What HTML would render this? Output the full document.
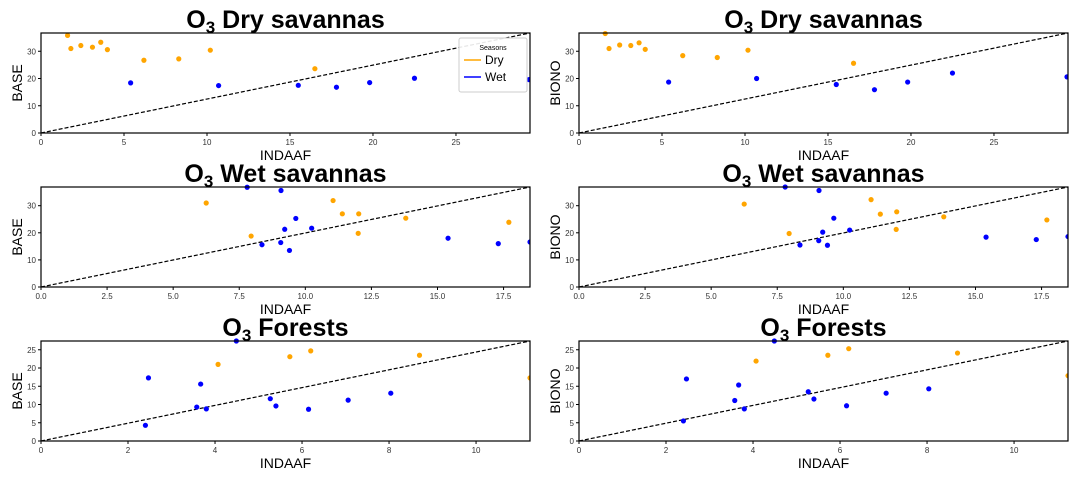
<!DOCTYPE html>
<html><head><meta charset="utf-8"><style>
body{margin:0;background:#fff;}
svg{display:block;font-family:"Liberation Sans","DejaVu Sans",sans-serif;}
</style></head><body>
<svg id="fig" width="1079" height="478" viewBox="0 0 1079 478"></svg>
<script>
const panelTitles=["Dry savannas","Wet savannas","Forests"];
const xMaxes=[29.46,18.5,11.24];
const yMaxes=[36.7,36.9,27.4];
const xTicks=[[0,5,10,15,20,25],[0,2.5,5,7.5,10,12.5,15,17.5],[0,2,4,6,8,10]];
const xTickLabels=[["0","5","10","15","20","25"],["0.0","2.5","5.0","7.5","10.0","12.5","15.0","17.5"],["0","2","4","6","8","10"]];
const yTicks=[[0,10,20,30],[0,10,20,30],[0,5,10,15,20,25]];
const yLabels=["BASE","BIONO"];
// Dry savannas
const ds_dry_x=[1.6,1.8,2.4,3.1,3.6,4.0,6.2,8.3,10.2,16.5];
const ds_base_dry_y=[35.8,31,32.1,31.5,33.3,30.6,26.7,27.2,30.4,23.6];
const ds_biono_dry_x=[1.58,1.81,2.45,3.12,3.62,3.99,6.25,8.33,10.18,16.54];
const ds_biono_dry_y=[36.5,31,32.3,32.1,33.1,30.7,28.4,27.7,30.4,25.6];
const ds_wet_x=[5.4,10.7,15.5,17.8,19.8,22.5,29.4];
const ds_base_wet_y=[18.4,17.4,17.5,16.8,18.5,20.1,19.6];
const ds_biono_wet_y=[18.7,20,17.8,15.9,18.7,22,20.6];
// Wet savannas
const ws_dry_x=[6.25,7.95,11.05,11.4,12.02,12.0,13.8,17.7];
const ws_base_dry_y=[31,18.8,31.9,27,27,19.8,25.4,23.9];
const ws_biono_dry_y=[30.6,19.75,32.25,26.9,27.75,21.25,25.9,24.75];
const ws_wet_x=[7.8,9.08,9.64,9.22,10.24,8.36,9.07,9.4,15.4,17.3,18.5];
const ws_base_wet_y=[36.8,35.6,25.3,21.3,21.7,15.6,16.4,13.5,18,16,16.6];
const ws_biono_wet_y=[36.9,35.6,25.4,20.25,21,15.5,17.1,15.4,18.4,17.5,18.6];
// Forests
const fo_dry_x=[4.07,5.72,6.2,8.7,11.24];
const fo_base_dry_y=[21.0,23.1,24.7,23.5,17.3];
const fo_biono_dry_y=[21.9,23.5,25.3,24.1,17.9];
const fo_wet_x=[2.4,2.47,3.67,3.58,3.8,4.49,5.27,5.4,6.15,7.06,8.04];
const fo_base_wet_y=[4.3,17.3,15.6,9.3,8.8,27.4,11.6,9.6,8.7,11.2,13.1];
const fo_biono_wet_y=[5.5,17,15.35,11.1,8.8,27.4,13.5,11.5,9.65,13.1,14.3];

const series=[
 [[ds_dry_x,ds_base_dry_y,ds_wet_x,ds_base_wet_y],[ds_biono_dry_x,ds_biono_dry_y,ds_wet_x,ds_biono_wet_y]],
 [[ws_dry_x,ws_base_dry_y,ws_wet_x,ws_base_wet_y],[ws_dry_x,ws_biono_dry_y,ws_wet_x,ws_biono_wet_y]],
 [[fo_dry_x,fo_base_dry_y,fo_wet_x,fo_base_wet_y],[fo_dry_x,fo_biono_dry_y,fo_wet_x,fo_biono_wet_y]]
];
const NS="http://www.w3.org/2000/svg";
const svg=document.getElementById('fig');
function mk(tag,attrs,parent){const e=document.createElementNS(NS,tag);for(const k in attrs)e.setAttribute(k,attrs[k]);(parent||svg).appendChild(e);return e;}
const colLeft=[41,579], colW=489, rowTop=[33,187,341], rowH=100;
for(let r=0;r<3;r++){for(let c=0;c<2;c++){
 const L=colLeft[c],T=rowTop[r],W=colW,H=rowH;
 const xs=v=>L+v/xMaxes[r]*W, ys=v=>T+H-v/yMaxes[r]*H;
 const g=mk('g',{});
 
 
 const t=mk('text',{x:L+W/2,y:T-5,'text-anchor':'middle','font-size':'25','font-weight':'bold'},g);
 
 
 t.innerHTML='O<tspan font-size="17" dy="5">3</tspan><tspan dy="-5"> '+panelTitles[r]+'</tspan>';
 const d=mk('line',{x1:L,y1:T+H,x2:L+W,y2:T,stroke:'#000','stroke-width':1.2,'stroke-dasharray':'4,2'},g);
 
 
 const s=series[r][c];
 const clip='clip'+r+c;
 const cp=mk('clipPath',{id:clip},g);mk('rect',{x:L-3,y:T-3,width:W+3,height:H+3},cp);
 for(let i=0;i<s[0].length;i++){const p=mk('circle',{cx:xs(s[0][i]),cy:ys(s[1][i]),r:2.6,fill:'#ffa500','clip-path':'url(#'+clip+')'},g);
  
  }
 for(let i=0;i<s[2].length;i++){const p=mk('circle',{cx:xs(s[2][i]),cy:ys(s[3][i]),r:2.6,fill:'#0000ff','clip-path':'url(#'+clip+')'},g);
  
  }
 const fr=mk('rect',{x:L,y:T,width:W,height:H,fill:'none',stroke:'#000','stroke-width':1.2},g);
 
 
 xTicks[r].forEach((v,i)=>{const x=xs(v);mk('line',{x1:x,y1:T+H,x2:x,y2:T+H+3,stroke:'#000'},g);
  const tl=mk('text',{x:x,y:T+H+12,'text-anchor':'middle','font-size':'8',fill:'#333'},g);tl.textContent=xTickLabels[r][i];
  
  });
 yTicks[r].forEach(v=>{const y=ys(v);mk('line',{x1:L-3,y1:y,x2:L,y2:y,stroke:'#000'},g);
  const tl=mk('text',{x:L-5,y:y+3,'text-anchor':'end','font-size':'8',fill:'#333'},g);tl.textContent=v;
  
  });
 const xl=mk('text',{x:L+W/2,y:T+H+27,'text-anchor':'middle','font-size':'14'},g);xl.textContent='INDAAF';
 
 
 const yl=mk('text',{x:0,y:0,'text-anchor':'middle','font-size':'14',transform:'translate('+(L-19)+','+(T+H/2)+') rotate(-90)'},g);yl.textContent=yLabels[c];
 
 
}}
const lg=mk('g',{});


mk('rect',{x:459,y:38,width:68,height:54,rx:2,fill:'#fff','fill-opacity':0.9,stroke:'#ccc'},lg);
const lt=mk('text',{x:493,y:50,'text-anchor':'middle','font-size':'7'},lg);lt.textContent='Seasons';


[['Dry','#ffa500',64],['Wet','#0000ff',81]].forEach(([n,col,y])=>{
 mk('line',{x1:464,y1:y-4,x2:481,y2:y-4,stroke:col,'stroke-width':1.5},lg);
 const e=mk('text',{x:485,y:y,'font-size':'12'},lg);e.textContent=n;
 
 
});
</script>
</body></html>
